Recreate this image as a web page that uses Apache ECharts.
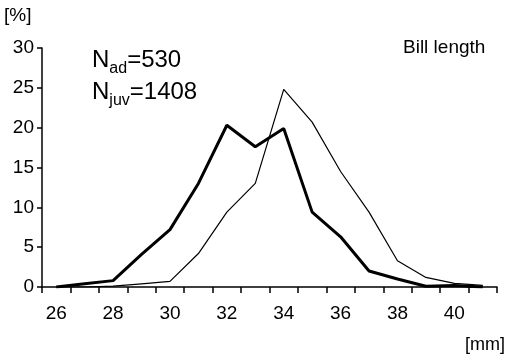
<!DOCTYPE html>
<html>
<head>
<meta charset="utf-8">
<script src="https://cdn.jsdelivr.net/npm/echarts@6/dist/echarts.min.js"></script>
<style>html,body{margin:0;padding:0;background:#fff}#c{width:508px;height:359px}</style>
</head>
<body>
<div id="c"></div>
<script>
var categories = ['26','27','28','29','30','31','32','33','34','35','36','37','38','39','40','41'];
var adults =     [0, 0.4, 0.8, 4.1, 7.2, 13.0, 20.3, 17.6, 19.9, 9.4, 6.3, 2.0, 1.0, 0.1, 0.2, 0];
var juveniles =  [0, 0, 0.1, 0.4, 0.7, 4.2, 9.4, 13.0, 24.8, 20.7, 14.5, 9.4, 3.3, 1.2, 0.45, 0.2];
var yTicks = { min: 0, max: 30, interval: 5 };

var chart = echarts.init(document.getElementById('c'));
var font = 'Liberation Sans, Arial, sans-serif';
var rich = {
  n: { fontSize: 24, fontFamily: font, fill: '#000', lineHeight: 30, verticalAlign: 'bottom' },
  s: { fontSize: 16, fontFamily: font, fill: '#000', lineHeight: 30, verticalAlign: 'bottom', padding: [0,0,-5,0] }
};
chart.setOption({
  animation: false,
  backgroundColor: '#fff',
  grid: { left: 42, right: 11, top: 48, bottom: 72, containLabel: false },
  xAxis: {
    type: 'category',
    data: categories,
    boundaryGap: true,
    axisLine: { show: true, lineStyle: { color: '#000', width: 1.5 } },
    axisTick: { show: true, interval: 0, length: 6, lineStyle: { color: '#000', width: 1.5 } },
    axisLabel: { interval: 1, color: '#000', fontSize: 19, fontFamily: font, margin: 17 },
    splitLine: { show: false }
  },
  yAxis: {
    type: 'value',
    min: yTicks.min, max: yTicks.max, interval: yTicks.interval,
    axisLine: { show: true, lineStyle: { color: '#000', width: 1.5 } },
    axisTick: { show: true, length: 5, lineStyle: { color: '#000', width: 1.5 } },
    axisLabel: { color: '#000', fontSize: 19, fontFamily: font, margin: 8 },
    splitLine: { show: false }
  },
  series: [
    { name: 'ad', type: 'line', data: adults, showSymbol: false, symbol: 'none',
      lineStyle: { color: '#000', width: 3 } },
    { name: 'juv', type: 'line', data: juveniles, showSymbol: false, symbol: 'none',
      lineStyle: { color: '#000', width: 1.2 } }
  ],
  graphic: [
    { type: 'text', left: 4, top: 6, style: { text: '[%]', fontSize: 19, fontFamily: font, fill: '#000' } },
    { type: 'text', right: 3, top: 336, style: { text: '[mm]', fontSize: 18, fontFamily: font, fill: '#000' } },
    { type: 'text', left: 403, top: 38, style: { text: 'Bill length', fontSize: 19, fontFamily: font, fill: '#000' } },
    { type: 'text', left: 92, top: 48, style: { text: '{n|N}{s|ad}{n|=530}', fontFamily: font, fill: '#000', rich: rich } },
    { type: 'text', left: 92, top: 80, style: { text: '{n|N}{s|juv}{n|=1408}', fontFamily: font, fill: '#000', rich: rich } }
  ]
});
</script>
</body>
</html>
